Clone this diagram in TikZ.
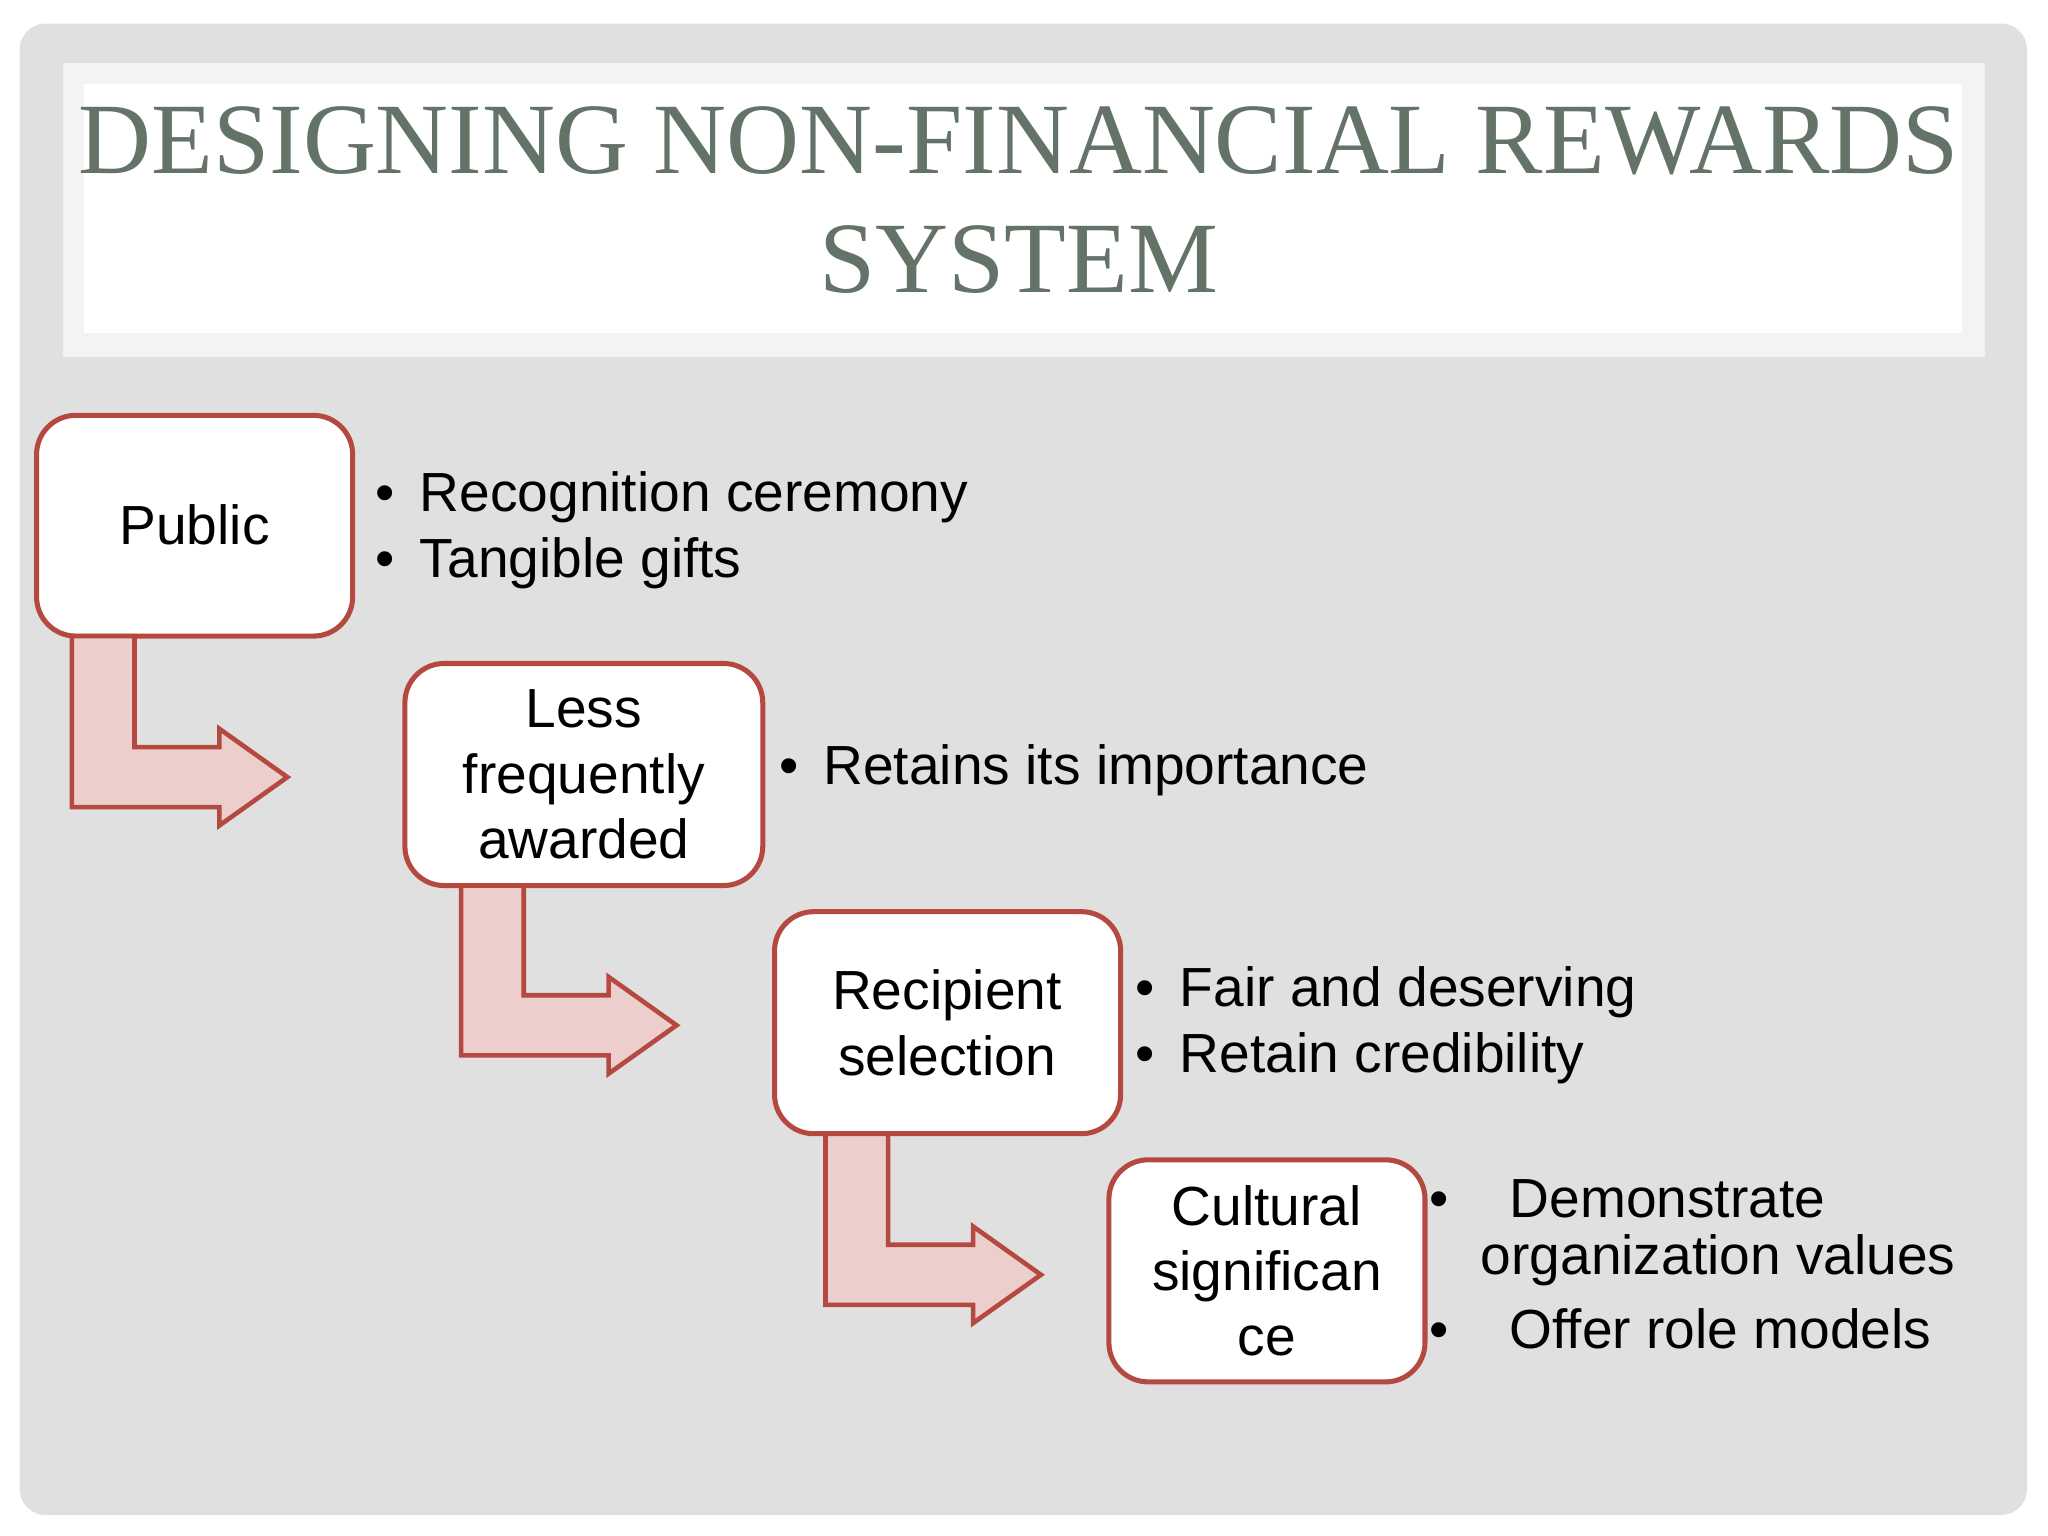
\documentclass[tikz,border=0pt]{standalone}
\usepackage{fontspec}
\setmainfont{Liberation Sans}
\newfontfamily\titlefont{Liberation Serif}
\begin{document}
\begin{tikzpicture}[x=0.01cm,y=-0.01cm]
\definecolor{bg}{HTML}{E0E0E0}
\definecolor{rb}{HTML}{B5483F}
\definecolor{af}{HTML}{ECCFCD}
\definecolor{tt}{HTML}{637367}
\tikzset{
 stepbox/.style={draw=rb,line width=1.1pt,fill=white,rounded corners=0.3cm,font=\fontsize{12}{14.2}\selectfont,align=center,inner sep=0pt},
 bent/.style={draw=rb,line width=1pt,fill=af},
 txt/.style={font=\fontsize{12}{14.2}\selectfont,anchor=west,inner sep=0pt},
}
\useasboundingbox (0,0) rectangle (1568,1176);
\fill[white] (0,0) rectangle (1568,1176);
\fill[bg,rounded corners=0.2cm] (15,18) rectangle (1552,1160);
\fill[white!60!bg] (48,48) rectangle (1520,273);
\fill[white] (64,64) rectangle (1502,255);
\node[font=\titlefont\fontsize{22}{24}\selectfont,text=tt,align=center] (title) at (780,153) {DESIGNING NON-FINANCIAL REWARDS\\[2pt]SYSTEM};
% boxes
\path[stepbox] (28,318) rectangle (270,487);
\node[stepbox,draw=none,fill=none] (b1) at (149,402) {Public};
\path[stepbox] (310,508) rectangle (584,678);
\node[stepbox,draw=none,fill=none] (b2) at (447,593) {Less\\frequently\\awarded};
\path[stepbox] (593,698) rectangle (858,868);
\node[stepbox,draw=none,fill=none] (b3) at (725,783) {Recipient\\selection};
\path[stepbox] (849,888) rectangle (1091,1058);
\node[stepbox,draw=none,fill=none] (b4) at (970,973) {Cultural\\significan\\ce};
% arrows
\draw[bent] (55,487)--(103,487)--(103,572)--(168,572)--(168,558)--(220,595)--(168,632)--(168,618)--(55,618)--cycle;
\draw[bent] (353,678)--(401,678)--(401,762)--(466,762)--(466,748)--(518,785)--(466,822)--(466,808)--(353,808)--cycle;
\draw[bent] (632,868)--(680,868)--(680,953)--(745,953)--(745,939)--(797,976)--(745,1013)--(745,999)--(632,999)--cycle;
% bullets
\node[txt] (t1) at (287,381) {•\hspace{0.45em}Recognition ceremony};
\node[txt] (t2) at (287,431) {•\hspace{0.45em}Tangible gifts};
\node[txt] (t3) at (596,590) {•\hspace{0.45em}Retains its importance};
\node[txt] (t4) at (869,760) {•\hspace{0.45em}Fair and deserving};
\node[txt] (t5) at (869,810) {•\hspace{0.45em}Retain credibility};
\node[txt] (t6) at (1094,918) {•\hspace{1.1em}Demonstrate};
\node[txt] (t7) at (1133,965) {organization values};
\node[txt] (t8) at (1094,1017) {•\hspace{1.1em}Offer role models};
\end{tikzpicture}
\end{document}
